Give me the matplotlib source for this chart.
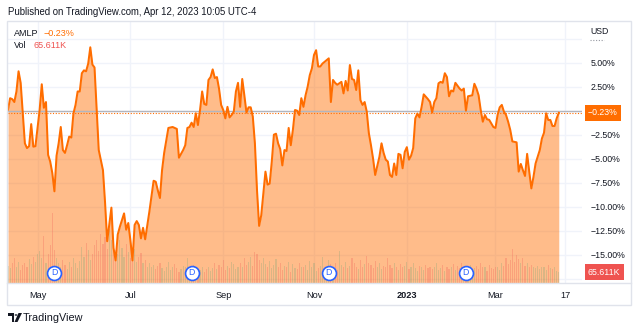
import numpy as np
import pandas as pd
import matplotlib
matplotlib.use("Agg")
import matplotlib.pyplot as plt
import matplotlib.transforms as mtransforms
from matplotlib.patches import Rectangle, Polygon, Circle
from matplotlib.lines import Line2D

plt.rcParams['font.family'] = ['Liberation Sans', 'DejaVu Sans']

# AMLP % change vs. first bar; trading day number counted from 2022-04-12
day = [0, 1, 2, 3, 4, 5, 6, 7, 8, 9, 10, 11, 12, 13, 15, 16, 17, 18, 19, 20,
       21, 22, 23, 24, 25, 26, 27, 28, 29, 30, 31, 32, 33, 34, 35, 36, 37, 38, 39, 40,
       41, 43, 45, 46, 47, 49, 50, 51, 52, 53, 55, 56, 57, 58, 59, 60, 61, 62, 63, 64,
       65, 67, 69, 70, 71, 72, 73, 74, 76, 78, 80, 81, 83, 84, 85, 86, 87, 88, 89, 90,
       91, 92, 93, 94, 95, 96, 97, 98, 99, 100, 101, 102, 103, 104, 105, 106, 107, 108, 109, 110,
       111, 112, 113, 114, 115, 116, 117, 118, 119, 120, 122, 123, 124, 125, 126, 127, 128, 129, 130, 131,
       132, 133, 134, 135, 136, 137, 138, 139, 140, 141, 142, 143, 144, 145, 146, 147, 148, 149, 152, 153,
       154, 155, 156, 157, 158, 159, 160, 161, 162, 163, 164, 165, 166, 167, 168, 169, 170, 171, 172, 173,
       174, 176, 177, 178, 179, 180, 181, 182, 183, 184, 185, 186, 187, 188, 189, 190, 191, 192, 193, 194,
       195, 196, 197, 198, 199, 200, 201, 202, 203, 204, 205, 206, 207, 208, 209, 210, 211, 212, 214, 215,
       216, 217, 218, 220, 221, 222, 223, 224, 225, 226, 227, 228, 230, 231, 232, 233, 234, 235, 236, 237,
       238, 239, 241, 242, 243, 244, 245, 246, 247, 248, 249, 250, 252, 253, 254, 255, 256, 257, 258, 259,
       260, 261]
pct = [0.1, 1.3, 1.2, 0.9, 2.0, 4.1, 2.9, -0.3, -3.4, -3.9, -3.7, -1.4, -3.75, -3.7, 0.1, 2.75, 0.3, 0.9, -4.6, -5.3,
       -6.5, -8.4, -4.7, -3.4, -1.7, -4.1, -4.4, -3.6, -2.7, -2.8, -0.3, 0.6, 2.0, 2.0, 3.9, 4.2, 4.1, 4.9, 6.6, 4.8,
       4.5, -4.1, -6.2, -9.6, -13.6, -10.1, -14.3, -15.6, -12.9, -12.1, -10.7, -12.4, -11.7, -13.5, -15.6, -11.9, -11.5, -11.9, -13.3, -12.2,
       -13.4, -10.5, -7.3, -7.4, -8.3, -9.1, -6.2, -4.4, -1.8, -1.7, -1.9, -4.9, -4.1, -3.6, -1.8, -1.7, -1.25, -1.7, -0.27, -1.5,
       0.07, 2.0, 0.7, 0.6, 3.2, 3.5, 4.3, 3.4, 3.5, 2.3, 0.6, 0.07, -0.8, 0.4, -0.7, -0.45, -0.1, 2.0, 2.9, 0.4,
       3.3, 1.6, -0.2, 0.35, 0.35, -0.6, -3.4, -8.3, -12.0, -10.9, -6.35, -7.7, -7.6, -5.3, -2.5, -2.4, -3.4, -4.0, -5.7, -4.1,
       -4.2, -1.8, -3.6, -2.0, 0.07, 0.0, -0.45, 1.3, 0.4, 1.6, 2.5, 3.7, 4.4, 5.8, 6.3, 4.6, 4.6, 4.9, 5.45, 0.9,
       3.2, 2.9, 2.7, 2.85, 3.0, 1.8, 3.1, 2.1, 4.75, 3.3, 3.2, 2.15, 4.2, 1.1, 0.6, 0.9, -0.1, -2.35, -3.6, -5.0,
       -6.7, -4.8, -3.4, -4.4, -5.1, -5.3, -6.7, -6.9, -5.5, -6.7, -4.5, -4.6, -6.0, -4.3, -3.8, -5.1, -4.7, -3.9, -0.8, -0.3,
       -0.7, 0.4, 1.7, 1.45, 1.2, 0.9, -0.2, 0.9, 1.3, 2.85, 3.0, 2.9, 3.9, 3.5, 1.5, 2.1, 2.0, 2.9, 2.3, 2.1,
       2.3, 0.0, 1.5, 1.6, 2.8, 2.3, 1.6, 0.07, -1.15, -0.45, -0.9, -0.95, -1.7, -1.8, -0.45, 0.35, 0.6, -0.1, -0.45, -1.15,
       -2.0, -3.2, -3.3, -6.35, -5.55, -6.2, -6.8, -4.5, -6.35, -8.1, -6.9, -5.5, -4.1, -2.9, -2.3, -0.27, -0.97, -0.97, -1.6, -1.6,
       -0.8, -0.23]

# daily volume in thousands, one value per trading day
vol = [105, 90, 120, 150, 95, 130, 80, 110, 125, 95,
       145, 115, 160, 130, 175, 195, 155, 290, 125, 180,
       230, 425, 200, 150, 120, 95, 140, 110, 85, 130,
       100, 150, 120, 90, 135, 220, 160, 245, 200, 140,
       180, 230, 260, 195, 300, 240, 280, 210, 330, 265,
       250, 200, 180, 260, 215, 160, 240, 190, 150, 170,
       210, 130, 160, 185, 120, 140, 100, 125, 95, 110,
       85, 105, 120, 90, 75, 95, 130, 80, 100, 115,
       90, 70, 85, 105, 95, 150, 80, 75, 110, 90,
       65, 80, 95, 70, 85, 100, 75, 90, 120, 85,
       110, 95, 140, 80, 105, 90, 130, 115, 85, 100,
       120, 95, 150, 110, 130, 160, 105, 190, 175, 140,
       125, 150, 115, 100, 135, 90, 110, 145, 95, 120,
       80, 105, 95, 130, 70, 115, 90, 85, 125, 100,
       95, 110, 80, 135, 100, 120, 75, 90, 105, 160,
       85, 100, 140, 115, 90, 125, 80, 195, 110, 95,
       130, 90, 105, 150, 120, 95, 85, 140, 100, 115,
       165, 125, 110, 90, 135, 100, 120, 85, 105, 95,
       150, 110, 90, 125, 100, 80, 115, 95, 105, 130,
       85, 100, 120, 90, 75, 105, 95, 80, 110, 90,
       100, 85, 95, 120, 80, 90, 110, 75, 100, 85,
       95, 115, 80, 105, 90, 125, 85, 100, 95, 110,
       80, 90, 105, 85, 120, 95, 100, 75, 110, 90,
       85, 100, 95, 80, 120, 105, 150, 115, 140, 210,
       130, 170, 145, 120, 155, 105, 125, 95, 110, 100,
       90, 105, 85, 100, 95, 80, 110, 90, 85, 100,
       75, 65.611]

dividend_dates = ['2022-05-12', '2022-08-11', '2022-11-10', '2023-02-09']
tick_dates = ['2022-05-02', '2022-07-01', '2022-09-01', '2022-11-01', '2023-01-02', '2023-03-01', '2023-04-17']
tick_labels = ['May', 'Jul', 'Sep', 'Nov', '2023', 'Mar', '17']
grid_pct = [7.5, 5, 2.5, 0, -2.5, -5, -7.5, -10, -12.5, -15, -17.5]
labelled_pct = [5, 2.5, -2.5, -5, -7.5, -10, -12.5, -15]
last_pct = -0.23
last_vol = 65.611

days = pd.bdate_range('2022-04-12', '2023-04-28')


def day_no(s):
    return days.get_loc(pd.Timestamp(s))


ORANGE = '#ff6d00'
RED = '#ef5350'
TEXT = '#131722'
GRID = '#f0f3fa'

W, H = 640, 333


def fx(x):
    return x / W


def fy(y):
    return 1 - y / H


fig = plt.figure(figsize=(6.4, 3.33), dpi=100)
ax = fig.add_axes([fx(8), fy(283), fx(582) - fx(8), fy(21) - fy(283)])
ymin, ymax = -17.95, 9.34
vol_top = 1600.0

# grid
for g in grid_pct:
    ax.axhline(g, color=GRID, lw=1, zorder=0)
for d in tick_dates:
    ax.axvline(day_no(d), color=GRID, lw=1, zorder=0)

# area
ax.fill_between(day, pct, ymin, color=ORANGE, alpha=0.46, lw=0, zorder=1)

# volume
blend = mtransforms.blended_transform_factory(ax.transData, ax.transAxes)
bar_x = np.arange(len(vol))
close = np.interp(bar_x, day, pct)
up = np.r_[True, np.diff(close) >= 0]
colors = [(0.35, 0.62, 0.45, 0.22) if u else (0.937, 0.325, 0.314, 0.25) for u in up]
ax.bar(bar_x, np.array(vol) / vol_top, width=0.55, bottom=0, color=colors,
       lw=0, transform=blend, zorder=2)

# lines
ax.axhline(0, color='#b2b5be', lw=1, zorder=1.5)
ax.axhline(last_pct, color=ORANGE, lw=0.8, ls=(0, (1, 1.5)), zorder=2.5)
ax.plot(day, pct, color=ORANGE, lw=1.45, zorder=3, solid_joinstyle='round')

# dividends
for d in dividend_dates:
    k = day_no(d)
    ax.plot(k, 0.039, 'o', ms=10, mfc='white', mec='#2962ff', mew=1.2,
            transform=blend, zorder=4, clip_on=False)
    ax.text(k, 0.039, 'D', color='#2962ff', fontsize=6.3, ha='center', va='center',
            transform=blend, zorder=5)

ax.set_xlim(0, 272)
ax.set_ylim(ymin, ymax)
ax.set_xticks([day_no(d) for d in tick_dates])
ax.set_xticklabels(tick_labels)
ax.get_xticklabels()[4].set_fontweight('bold')
ax.set_yticks(labelled_pct)
ax.set_yticklabels([f'{v:.2f}%'.replace('-', '\u2212') for v in labelled_pct])
ax.yaxis.tick_right()
ax.tick_params(axis='x', length=0, pad=6, labelsize=6.6, labelcolor=TEXT)
ax.tick_params(axis='y', length=0, pad=6, labelsize=6.3, labelcolor=TEXT)
for s in ax.spines.values():
    s.set_visible(False)

# price / volume labels on the scale
ax.annotate(f'{last_pct:.2f}%'.replace('-', '\u2212'), xy=(1, last_pct),
            xycoords=mtransforms.blended_transform_factory(ax.transAxes, ax.transData),
            xytext=(6, 0), textcoords='offset pixels', ha='left', va='center',
            color='white', fontsize=6.3, annotation_clip=False,
            bbox=dict(boxstyle='square,pad=0.4', fc=ORANGE, ec='none'))
ax.annotate(f'{last_vol:.3f}K', xy=(1, last_vol / vol_top), xycoords=ax.transAxes,
            xytext=(6, 0), textcoords='offset pixels', ha='left', va='center',
            color='white', fontsize=6.3, annotation_clip=False,
            bbox=dict(boxstyle='square,pad=0.4', fc=RED, ec='none'))

# frame
fig.add_artist(Rectangle((fx(7), fy(305)), fx(631) - fx(7), fy(21) - fy(305),
                         fill=False, ec='#e0e3eb', lw=1))
fig.add_artist(Line2D([fx(7), fx(631)], [fy(283), fy(283)], color='#e0e3eb', lw=1))

# header / legend
fig.text(fx(8), fy(12), 'Published on TradingView.com, Apr 12, 2023 10:05 UTC-4',
         fontsize=6.9, color=TEXT, va='center')
fig.text(fx(14), fy(33), 'AMLP', fontsize=6.5, color=TEXT, va='center')
fig.text(fx(44), fy(33), f'{last_pct:.2f}%'.replace('-', '\u2212'), fontsize=6.5, color=ORANGE, va='center')
fig.text(fx(14), fy(46), 'Vol', fontsize=6.5, color=TEXT, va='center')
fig.text(fx(33), fy(46), f'{last_vol:.3f}K', fontsize=6.5, color=RED, va='center')
fig.text(fx(590), fy(32), 'USD', fontsize=6.3, color=TEXT, va='center')
fig.add_artist(Line2D([fx(590), fx(604)], [fy(40), fy(40)], color='#9598a1', lw=0.8, ls=(0, (1, 1.5))))

# TradingView logo
fig.add_artist(Rectangle((fx(8), fy(315.5)), fx(6), 2.5 / H, color=TEXT, lw=0))
fig.add_artist(Rectangle((fx(11.5), fy(322)), fx(2.5), 9 / H, color=TEXT, lw=0))
fig.add_artist(Circle((fx(16), fy(315)), 1.4 / W, color=TEXT, lw=0))
fig.add_artist(Polygon([(fx(18.5), fy(313)), (fx(22), fy(313)), (fx(17.5), fy(322)), (fx(14.5), fy(322))],
                       closed=True, color=TEXT, lw=0))
fig.text(fx(23), fy(318), 'TradingView', fontsize=7.8, color=TEXT, va='center')

fig.savefig('out.png', dpi=100)
